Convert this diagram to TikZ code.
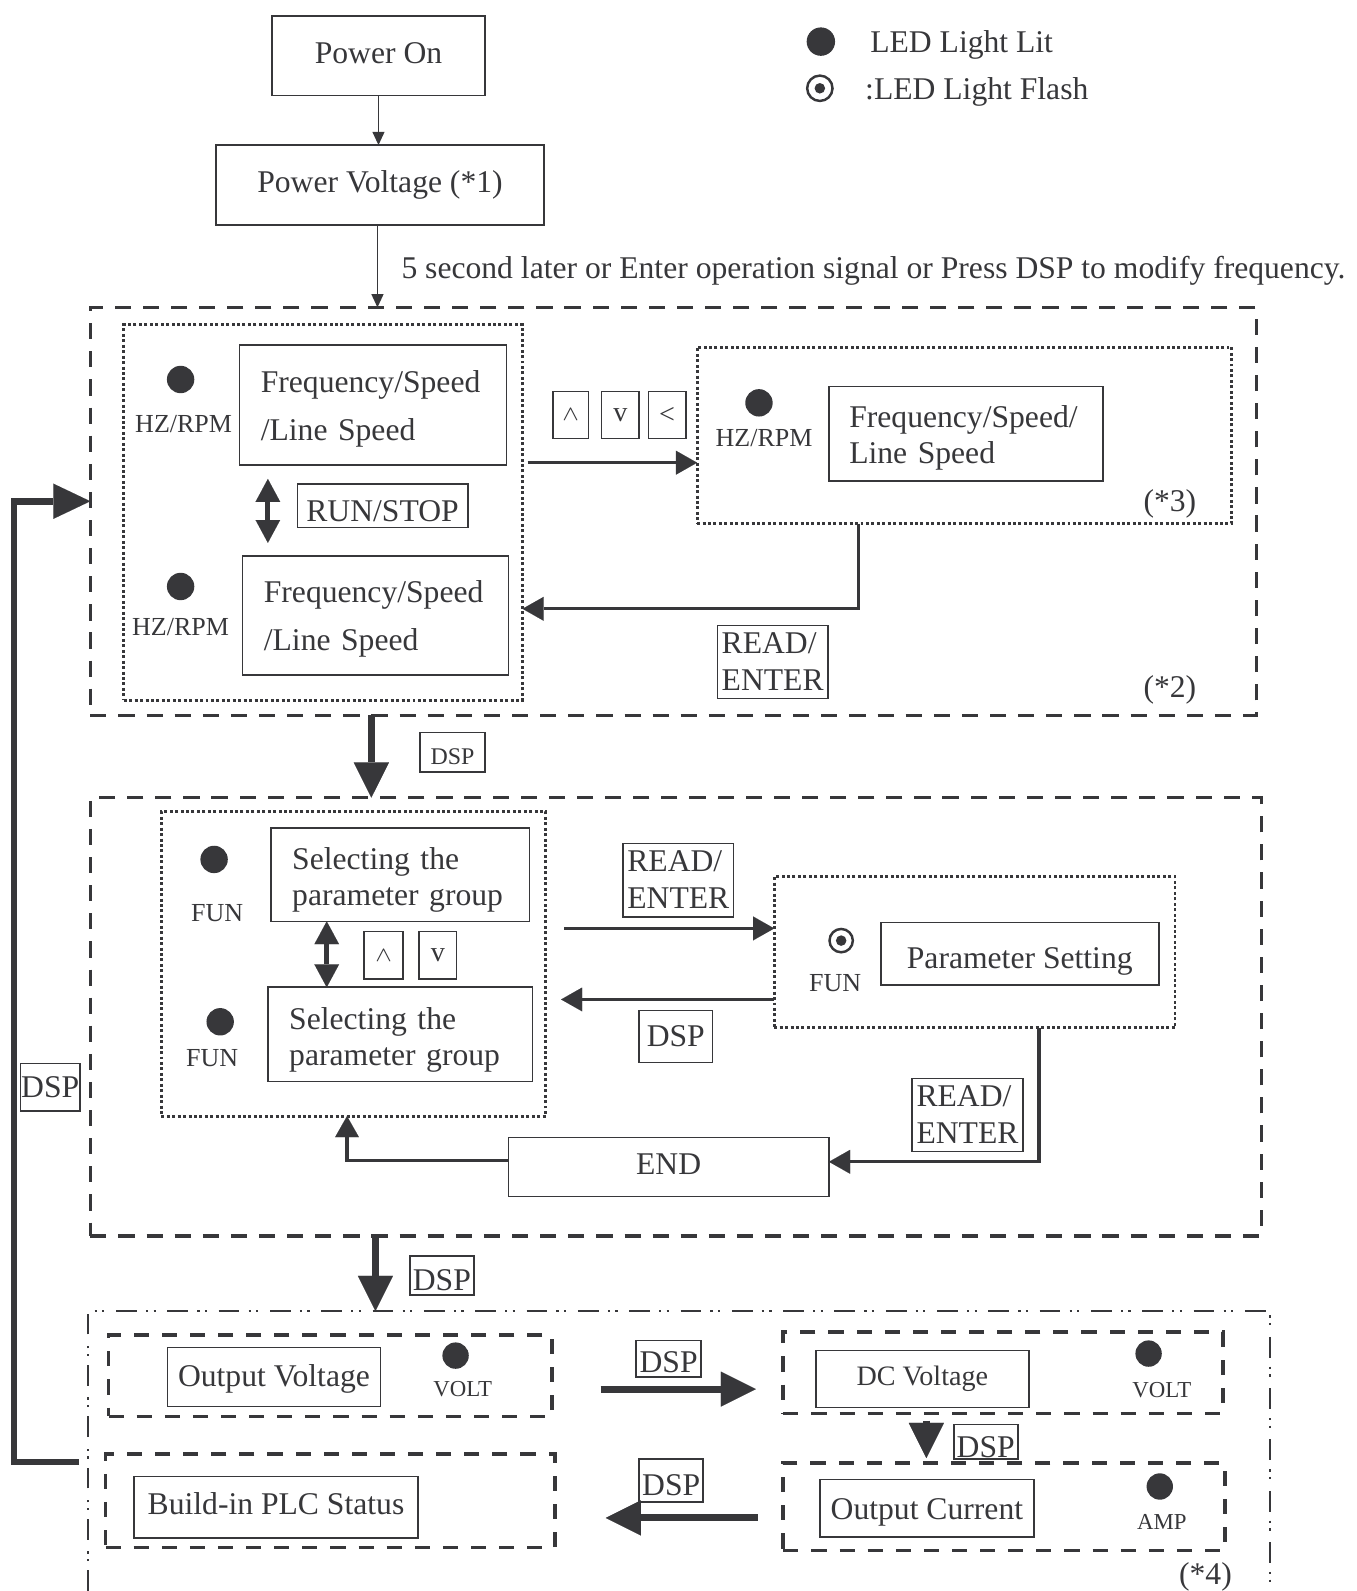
\documentclass[tikz,border=0pt]{standalone}
\usepackage{fontspec}
\setmainfont{Liberation Serif}
\usetikzlibrary{positioning, arrows.meta, calc}
\definecolor{ink}{RGB}{55,55,58}
\newlength\ux
\setlength\ux{0.01015cm}
\newcommand\lowered[2]{\raisebox{-#1}[\height][\depth]{#2}}
\newcommand\twolines[3][0pt]{\begin{tabular}{@{}l@{}}#2\\[#1]#3\end{tabular}}

\begin{document}
\begin{tikzpicture}[x=0.01015cm, y=-0.01015cm, color=ink, font=\fontsize{9}{10.4}\selectfont,
  sz/.style 2 args={minimum width=#1\ux, minimum height=#2\ux}]
\tikzstyle{box}=[draw, line width=0.45pt, inner sep=0pt, outer sep=0pt, align=center]
\tikzstyle{txtbox}=[box, align=left]
\tikzstyle{keybox}=[box, font=\fontsize{8}{9}\selectfont]
\tikzstyle{smallbox}=[box, font=\fontsize{6.8}{8}\selectfont]
\tikzstyle{grp}=[draw, dash pattern=on 4.6pt off 3.4pt, line width=0.95pt, inner sep=0pt, outer sep=0pt]
\tikzstyle{dotgrp}=[draw, dash pattern=on 0.85pt off 0.7pt, line width=0.85pt, inner sep=0pt, outer sep=0pt]
\tikzstyle{subgrp}=[draw, dash pattern=on 4.3pt off 3.7pt, line width=1.05pt, inner sep=0pt, outer sep=0pt]
\tikzstyle{dashdot}=[dash pattern=on 5.9pt off 2.6pt on 0.65pt off 1.5pt on 0.65pt off 3.3pt, line width=0.6pt]
\tikzstyle{led}=[circle, fill, inner sep=0pt, minimum size=27\ux]
\tikzstyle{flash}=[circle, draw, line width=0.7pt, inner sep=0pt, minimum size=23\ux,
  path picture={\fill (path picture bounding box.center) circle (1.5pt);}]
\tikzstyle{tag}=[inner sep=0pt, font=\fontsize{7.4}{8}\selectfont]
\tikzstyle{mtag}=[inner sep=0pt, font=\fontsize{6.5}{7}\selectfont]
\tikzstyle{note}=[inner sep=0pt]
\tikzstyle{thin}=[-{Triangle[length=3.8pt, width=3.4pt]}, line width=0.45pt]
\tikzstyle{arr}=[-{Triangle[length=6pt, width=6.8pt, line width=0.01pt]}, line width=0.95pt]
\tikzstyle{big}=[-{Triangle[length=10pt, width=10pt, line width=0.01pt]}, line width=2pt]
\tikzstyle{dbl}=[{Triangle[length=6.5pt, width=7pt, line width=0.01pt]}-{Triangle[length=6.5pt, width=7pt, line width=0.01pt]}, line width=1.4pt]
\tikzstyle{fb}=[-{Triangle[length=10.5pt, width=10pt, line width=0.01pt]}, line width=1.85pt, line join=miter]
\useasboundingbox (0,0) rectangle (1337,1568);

% start
\node[box, sz={210}{78}] (pwron) at (373,55) {\lowered{-0.87pt}{Power On}};
\node[box, sz={323}{79}] (pwrvolt) at (374.5,182.5) {Power Voltage (*1)};
\node[led, minimum size=28\ux] (legLit) at (809,41) {};
\node[note, anchor=west] (legLitTxt) at (857,44) {LED Light Lit};
\node[flash, minimum size=25\ux] (legFlash) at (808,87) {};
\node[note, anchor=west] (legFlashTxt) at (852,91) {:LED Light Flash};
\node[note, anchor=west] (delayTxt) at (395,267) {5 second later or Enter operation signal or Press DSP to modify frequency.};

% frequency display group
\node[grp, sz={1149}{402}] (grpA) at (663.5,504) {};
\node[dotgrp, sz={393}{370}] (dotA) at (318.5,505) {};
\node[dotgrp, sz={527}{174}] (dotA3) at (950.5,429) {};
\node[led] (ledA1) at (178,374) {};
\node[tag] (hzA1) at (181,418) {HZ/RPM};
\node[txtbox, sz={263}{118}, text width=63.8pt] (fsA1) at (367.5,399) {\lowered{1.15pt}{\twolines[3.2pt]{Frequency/Speed}{/Line Speed}}};
\node[box, sz={168}{43}] (runstop) at (377,498.5) {\lowered{1.45pt}{RUN/STOP}};
\node[led] (ledA2) at (178,578) {};
\node[tag] (hzA2) at (178,618) {HZ/RPM};
\node[txtbox, sz={262}{117}, text width=63.5pt] (fsA2) at (370,606.5) {\lowered{1.15pt}{\twolines[3.2pt]{Frequency/Speed}{/Line Speed}}};
\node[led] (ledA3) at (748,397) {};
\node[tag] (hzA3) at (753,432) {HZ/RPM};
\node[txtbox, sz={270}{93}, text width=66.4pt] (fsA3) at (952,427.5) {\lowered{1.3pt}{\twolines{Frequency/Speed/}{Line Speed}}};
\node[note] (noteA3) at (1153,497) {(*3)};
\node[keybox, sz={35}{46}] (upA) at (562.5,409) {\fontsize{6}{7}\selectfont$\wedge$};
\node[keybox, sz={37}{46}] (dnA) at (611.5,409) {v};
\node[keybox, sz={37}{46}] (ltA) at (657.5,409) {<};
\node[box, sz={109}{71}] (rdA) at (761.5,652.5) {\lowered{0.7pt}{\twolines{READ/}{ENTER}}};
\node[note] (noteA2) at (1153,680) {(*2)};
\coordinate (a3in) at ($(dotA3.west)+(0,27)$);
\draw[arr] ($(dotA.east |- a3in)+(5,0)$) -- (a3in);
\draw[arr] ($(dotA3.south west)+(159,0)$) |- ($(dotA.east)+(0,95)$);
\draw[dbl] ($(fsA1.south west)+(28,14)$) -- ($(fsA2.north west)+(25,-13)$);

\draw[thin] (pwron.south) -- (pwron.south |- pwrvolt.north);
\draw[thin] ($(pwrvolt.south)+(-2.5,0)$) -- ($(pwrvolt.south |- grpA.north)+(-2.5,0)$);

% parameter group
\node[grp, sz={1154}{432}] (grpB) at (666,1002) {};
\node[smallbox, sz={64}{39}] (dspA) at (446,741.5) {\lowered{1.1pt}{DSP}};
\draw[big] ($(grpA.south west)+(277,0)$) -- ($(grpB.north west)+(277,0)$);
\node[dotgrp, sz={379}{300}] (dotB) at (348.5,950) {};
\node[dotgrp, sz={395}{149}] (dotB3) at (960.5,938.5) {};
\node[led] (ledB1) at (211,847) {};
\node[tag] (funB1) at (214,900) {FUN};
\node[txtbox, sz={255}{92}, text width=61.5pt] (spB1) at (394.5,862) {\lowered{1.6pt}{\twolines{Selecting the}{parameter group}}};
\node[keybox, sz={38}{47}] (upB) at (378,941.5) {\fontsize{6}{7}\selectfont$\wedge$};
\node[keybox, sz={37}{47}] (dnB) at (431.5,941.5) {v};
\node[led] (ledB2) at (217,1007) {};
\node[tag] (funB2) at (209,1043) {FUN};
\node[txtbox, sz={261}{93}, text width=63.2pt] (spB2) at (394.5,1019.5) {\lowered{1.6pt}{\twolines{Selecting the}{parameter group}}};
\node[flash] (flashB) at (829,927) {};
\node[tag] (funB3) at (823,969) {FUN};
\node[box, sz={274}{62}] (psB) at (1005,940) {\lowered{2.3pt}{Parameter Setting}};
\node[box, sz={109}{71}] (rdB1) at (668.5,867.5) {\lowered{0.7pt}{\twolines{READ/}{ENTER}}};
\node[box, sz={72}{51}] (dspB) at (666,1021.5) {DSP};
\node[box, sz={109}{72}] (rdB2) at (953.5,1099) {\lowered{0.7pt}{\twolines{READ/}{ENTER}}};
\node[box, sz={316}{58}] (endB) at (659,1150) {\lowered{-0.87pt}{END}};
\draw[dbl] ($(spB1.south west)+(55,0)$) -- ($(spB2.north west)+(58,0)$);
\coordinate (b3in) at ($(dotB3.west)+(0,-23.5)$);
\draw[arr] ($(dotB.east |- b3in)+(18,0)$) -- (b3in);
\coordinate (b3out) at ($(dotB3.west)+(0,46.5)$);
\draw[arr] (b3out) -- ($(dotB.east |- b3out)+(15,0)$);
\draw[arr] ($(dotB3.south west)+(261,0)$) |- ($(endB.east)+(0,-5)$);
\draw[arr] ($(endB.west)+(0,-6)$) -| ($(dotB.south west)+(183,0)$);

% monitor group
\coordinate (grpCnw) at (87,1292);
\coordinate (grpCne) at (1252,1292);
\draw[dashdot] (87,1568) -- (grpCnw) -- (grpCne) -- (1252,1568);
\node[box, sz={63}{38}] (dspB2) at (435.5,1257) {\lowered{1.45pt}{DSP}};
\draw[big] ($(grpB.south west)+(281,0)$) -- ($(grpCnw)+(283,0)$);
\node[subgrp, sz={437}{80}] (ovC) at (325.5,1356) {};
\node[box, sz={210}{58}] (ovBox) at (270,1357) {\lowered{0.6pt}{Output Voltage}};
\node[led, minimum size=26\ux] (ledC1) at (449,1336) {};
\node[mtag] (voltC1) at (456,1369) {VOLT};
\node[subgrp, sz={433}{80}] (dcC) at (988.5,1353) {};
\node[box, sz={210}{56}, font=\fontsize{8}{9}\selectfont] (dcBox) at (909,1359) {DC Voltage};
\node[led, minimum size=26\ux] (ledC2) at (1132,1334) {};
\node[mtag] (voltC2) at (1145,1370) {VOLT};
\node[subgrp, sz={435}{86}] (ocC) at (989.5,1485) {};
\node[box, sz={211}{57}] (ocBox) at (913.5,1486.5) {\lowered{1.15pt}{Output Current}};
\node[led, minimum size=26\ux] (ledC3) at (1143,1465) {};
\node[mtag] (ampC) at (1145,1500) {AMP};
\node[subgrp, sz={443}{92}] (plcC) at (325.5,1479) {};
\node[box, sz={280}{61}] (plcBox) at (272,1485.5) {\lowered{-1.15pt}{Build-in PLC Status}};
\node[box, sz={64}{36}] (dspC1) at (659,1339) {\lowered{0.87pt}{DSP}};
\node[box, sz={63}{34}] (dspC2) at (971.5,1421) {\lowered{1.45pt}{DSP}};
\node[box, sz={63}{42}] (dspC3) at (661.5,1459) {\lowered{1.45pt}{DSP}};
\node[note] (noteC) at (1188,1554) {(*4)};
\draw[big] ($(ovC.east)+(48,13)$) -- ($(dcC.west)+(-27,16)$);
\draw[big] ($(dcC.south)+(-75.5,7)$) -- ($(ocC.north)+(-76.5,-5)$);
\draw[big] ($(ocC.west)+(-25,11)$) -- ($(plcC.east)+(50,17)$);

% back to frequency display
\node[box, sz={59}{47}] (dspFb) at (49.5,1071.5) {DSP};
\draw[fb] ($(grpCnw)+(-9,149)$) -- ++(-64,0) |- ($(grpA.west)+(0,-10)$);
\end{tikzpicture}
\end{document}
